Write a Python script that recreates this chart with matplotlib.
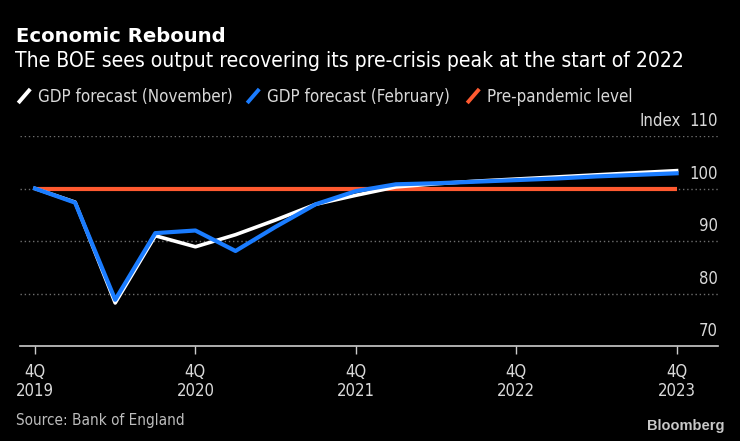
import numpy as np
import matplotlib
matplotlib.use("Agg")
import matplotlib.pyplot as plt
from matplotlib.lines import Line2D
from matplotlib.transforms import blended_transform_factory

# quarters from 4Q2019 to 4Q2023
quarters = ["4Q19", "1Q20", "2Q20", "3Q20", "4Q20", "1Q21", "2Q21", "3Q21", "4Q21",
            "1Q22", "2Q22", "3Q22", "4Q22", "1Q23", "2Q23", "3Q23", "4Q23"]
gdp_nov = [100.0, 97.4, 78.2, 91.0, 88.9, 91.2, 94.0, 97.0, 98.7,
           100.3, 100.9, 101.4, 101.8, 102.2, 102.6, 103.0, 103.4]
gdp_feb = [100.0, 97.3, 78.8, 91.5, 92.0, 88.1, 92.7, 97.0, 99.5,
           100.8, 101.0, 101.3, 101.6, 101.9, 102.3, 102.6, 102.9]
pre_pandemic = [100.0] * 17

tick_idx = [0, 4, 8, 12, 16]
tick_labels = ["4Q\n2019", "4Q\n2020", "4Q\n2021", "4Q\n2022", "4Q\n2023"]
y_ticks = [70, 80, 90, 100, 110]

WHITE = "#ffffff"
BLUE = "#1a7cff"
RED = "#ff5a30"
GRID = "#6e6e6e"
LABEL = "#d9d9d9"

cond = dict(family=["DejaVu Sans"], stretch="condensed")
plt.rcParams["font.family"] = ["DejaVu Sans"]

fig = plt.figure(figsize=(7.4, 4.41), dpi=100, facecolor="black")
W, H = 740, 441
ax = fig.add_axes([20 / W, (H - 346) / H, (718 - 20) / W, (346 - 136) / H])
ax.set_facecolor("black")

x = np.arange(len(quarters))
ax.plot(x, pre_pandemic, color=RED, lw=3, zorder=3, solid_capstyle="butt")
ax.plot(x, gdp_nov, color=WHITE, lw=2.6, zorder=4)
ax.plot(x, gdp_feb, color=BLUE, lw=3, zorder=5)

ax.set_xlim((20 - 35) / 40.1, (718 - 35) / 40.1)
ax.set_ylim(70, 110)

for v in [80, 90, 100, 110]:
    ax.axhline(v, color=GRID, lw=1, ls=(0, (1, 2)), zorder=1)

for s in ["top", "right", "left"]:
    ax.spines[s].set_visible(False)
ax.spines["bottom"].set_color("#cccccc")
ax.spines["bottom"].set_linewidth(1.2)

ax.set_xticks(tick_idx)
ax.set_xticklabels(tick_labels, fontsize=12, color=LABEL, linespacing=1.1, **cond)
ax.tick_params(axis="x", colors="#cccccc", length=6, width=1, pad=6, labelcolor=LABEL)
ax.set_yticks([])

trans = blended_transform_factory(ax.transAxes, ax.transData)
for v in y_ticks:
    ax.annotate(str(v), xy=(1.0, v), xycoords=trans, xytext=(0, 7),
                textcoords="offset points", ha="right", va="baseline",
                fontsize=12, color=LABEL, annotation_clip=False, **cond)
ax.annotate("Index", xy=(1.0, 110), xycoords=trans, xytext=(-27, 7),
            textcoords="offset points", ha="right", va="baseline",
            fontsize=12, color=LABEL, annotation_clip=False, **cond)

# titles
fig.text(16 / W, 1 - 42.3 / H, "Economic Rebound", fontsize=14.1, fontweight="bold",
         color=WHITE, va="baseline", ha="left")
fig.text(15 / W, 1 - 67.3 / H, "The BOE sees output recovering its pre-crisis peak at the start of 2022",
         fontsize=15.1, color=WHITE, va="baseline", ha="left", **cond)

# legend
legend_items = [("GDP forecast (November)", WHITE, 18),
                ("GDP forecast (February)", BLUE, 247),
                ("Pre-pandemic level", RED, 467)]
for label, col, px in legend_items:
    fig.add_artist(Line2D([(px + 1.5) / W, (px + 11) / W], [1 - 101.5 / H, 1 - 90.5 / H],
                          color=col, lw=2.8, transform=fig.transFigure))
    fig.text((px + 20) / W, 1 - 101.8 / H, label, fontsize=12.2, color=LABEL,
             va="baseline", ha="left", **cond)

fig.text(16 / W, 1 - 425.5 / H, "Source: Bank of England", fontsize=11, color="#bdbdbd",
         va="baseline", ha="left", **cond)
fig.text(724 / W, 1 - 426 / H, "Bloomberg", fontsize=10.5, fontweight="bold",
         family=["Liberation Sans"], color="#c8c8c8", va="center", ha="right")

fig.savefig("out.png", dpi=100, facecolor="black")
